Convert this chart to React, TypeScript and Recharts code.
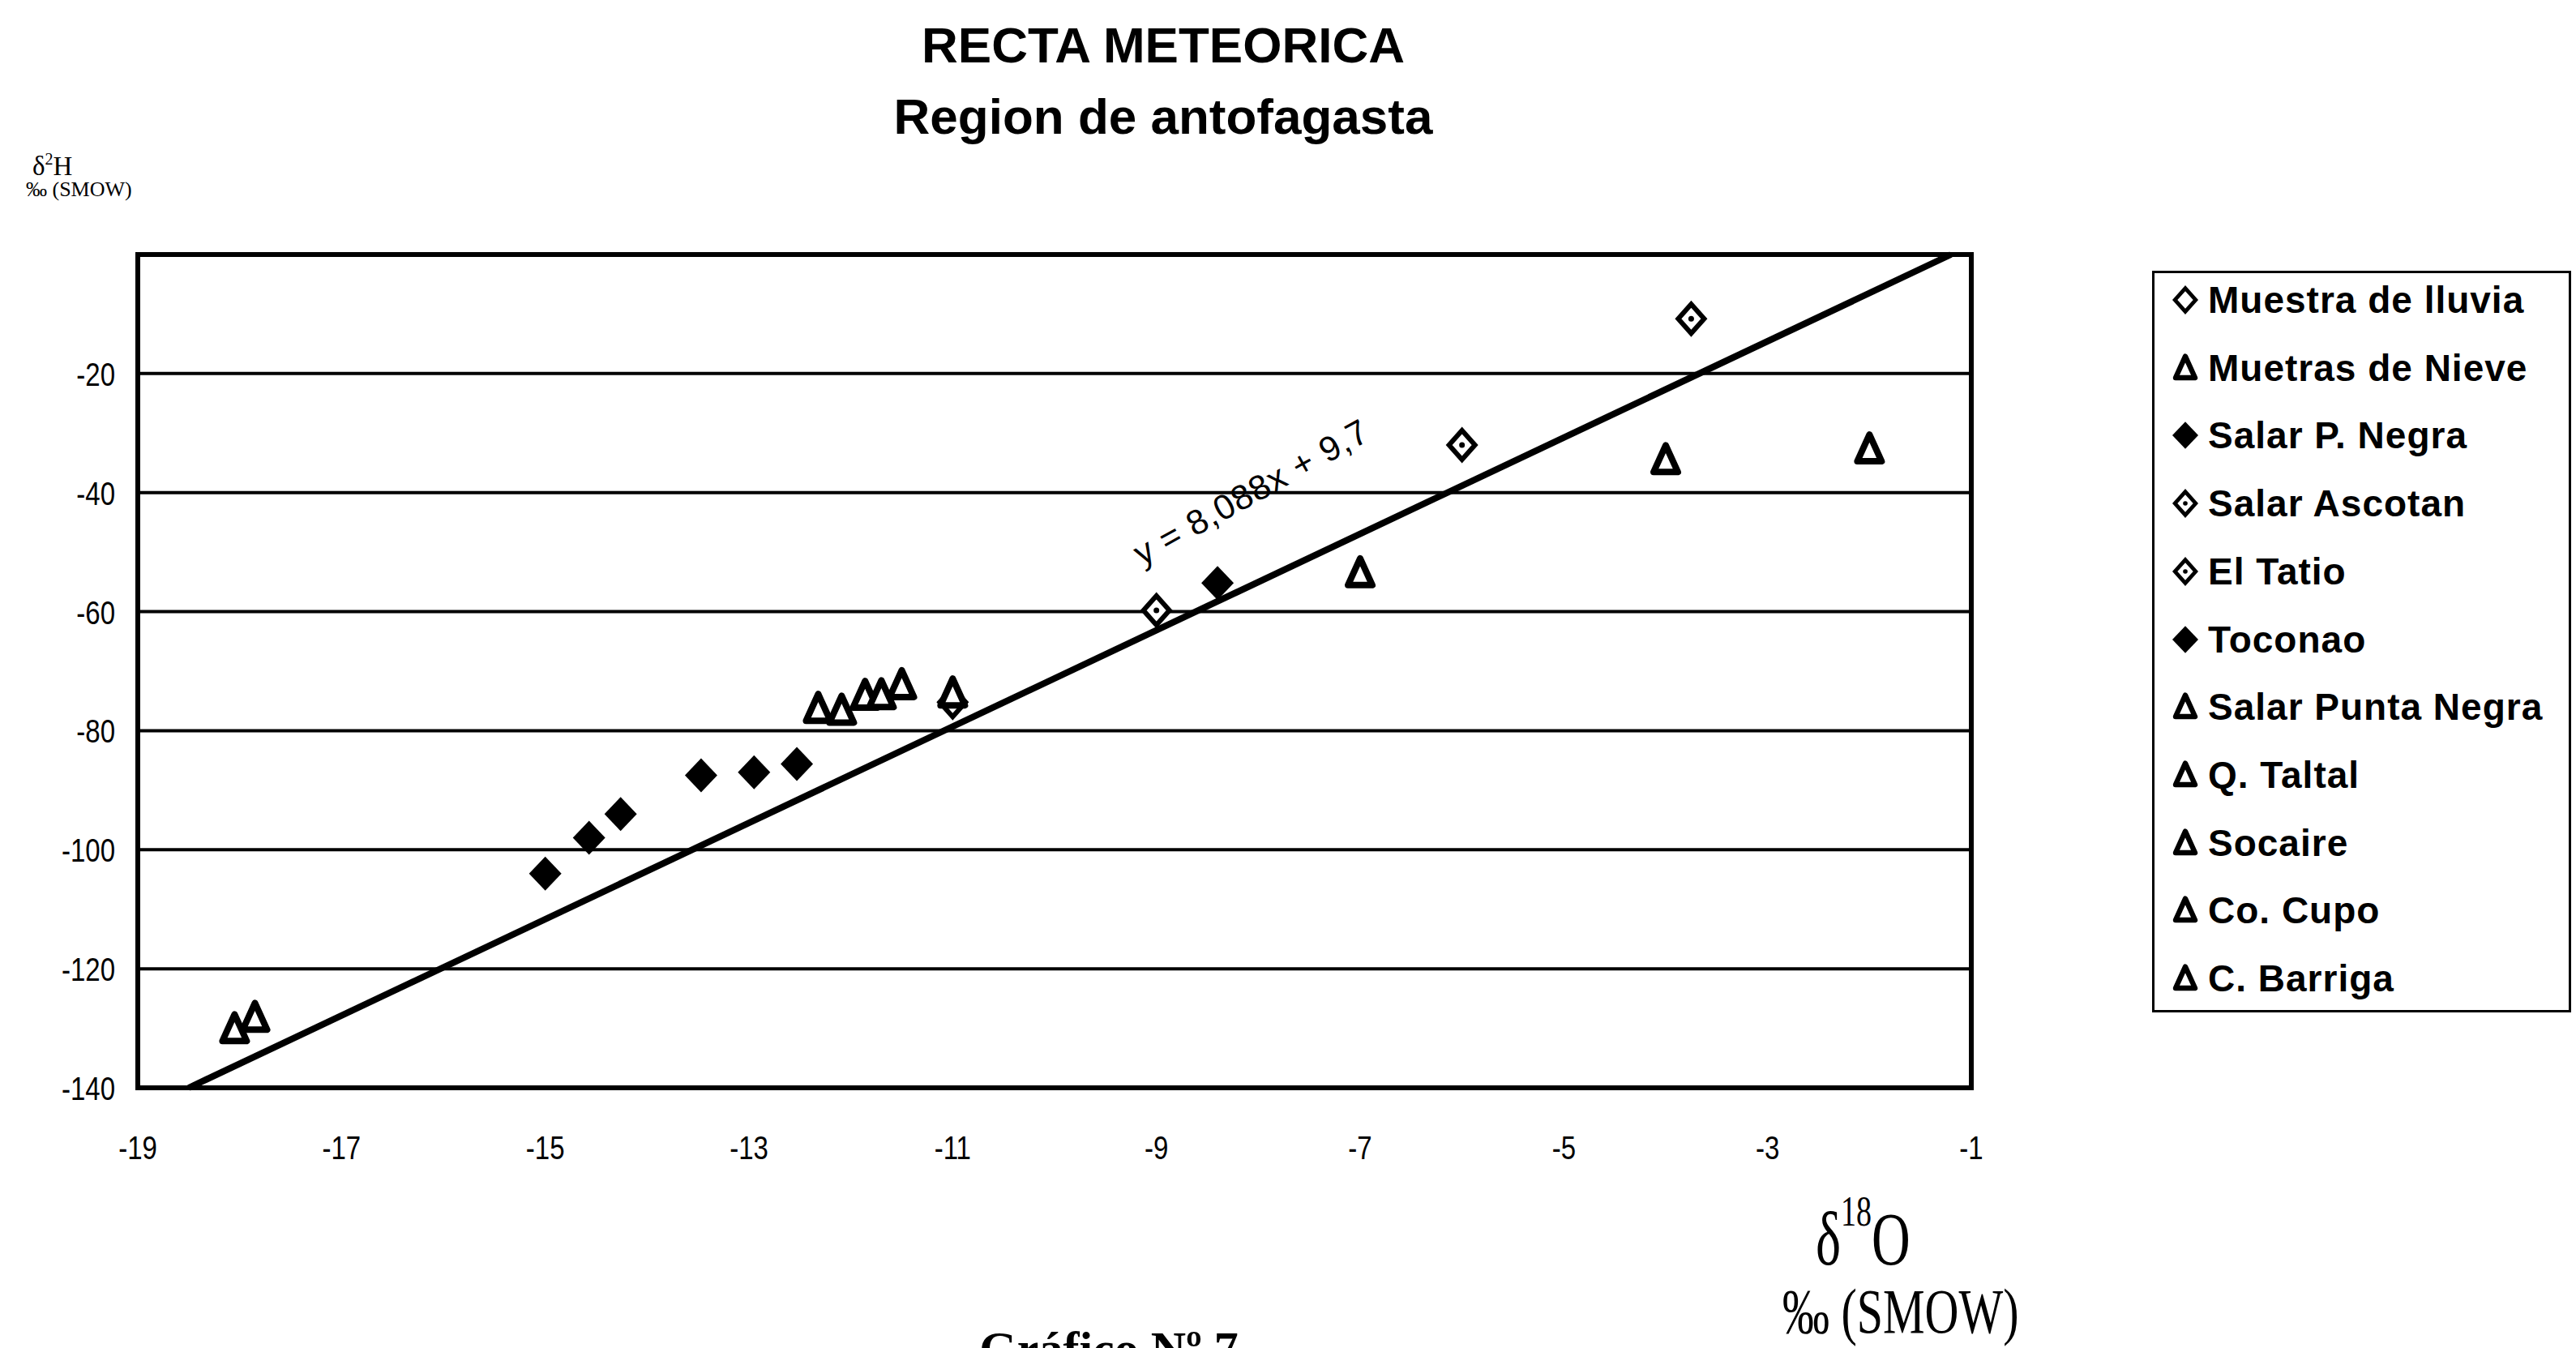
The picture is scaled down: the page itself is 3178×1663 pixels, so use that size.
import React from 'react';
import {
  ScatterChart,
  Scatter,
  XAxis,
  YAxis,
  CartesianGrid,
  ReferenceLine,
  ReferenceArea,
  Legend,
} from 'recharts';

// axis ticks
const xTicks = [-19, -17, -15, -13, -11, -9, -7, -5, -3, -1];
const yTicks = [-140, -120, -100, -80, -60, -40, -20];

// samples (δ18O, δ2H)
const muestraLluvia = [{ x: -11.0, y: -75.2 }];
const muestrasNieve = [
  { x: -18.05, y: -130.1 },
  { x: -17.85, y: -128.2 },
];
const salarPNegra = [{ x: -8.4, y: -55.2 }];
const salarAscotan = [
  { x: -6.0, y: -32.0 },
  { x: -3.75, y: -10.8 },
];
const elTatio = [{ x: -9.0, y: -59.8 }];
const toconao = [
  { x: -15.0, y: -104.0 },
  { x: -14.57, y: -98.0 },
  { x: -14.26, y: -94.0 },
  { x: -13.47, y: -87.5 },
  { x: -12.95, y: -87.0 },
  { x: -12.53, y: -85.6 },
];
const salarPuntaNegra = [{ x: -7.0, y: -53.5 }];
const qTaltal = [{ x: -4.0, y: -34.5 }];
const socaire = [
  { x: -12.32, y: -76.3 },
  { x: -12.09, y: -76.6 },
  { x: -11.86, y: -74.1 },
  { x: -11.7, y: -74.0 },
  { x: -11.5, y: -72.3 },
];
const coCupo = [{ x: -2.0, y: -32.7 }];
const cBarriga = [{ x: -11.0, y: -73.7 }];

// meteoric line y = 8,088x + 9,7 (ends where it meets the frame)
const trendLine = [
  { x: -18.5, y: -140 },
  { x: -1.2, y: 0 },
];

type Kind = 'hollow' | 'dotted' | 'filled' | 'triangle';

const SERIES: Array<{ name: string; data: Array<{ x: number; y: number }>; kind: Kind }> = [
  { name: 'Muestra de lluvia', data: muestraLluvia, kind: 'hollow' },
  { name: 'Muetras de Nieve', data: muestrasNieve, kind: 'triangle' },
  { name: 'Salar P. Negra', data: salarPNegra, kind: 'filled' },
  { name: 'Salar Ascotan', data: salarAscotan, kind: 'dotted' },
  { name: 'El Tatio', data: elTatio, kind: 'dotted' },
  { name: 'Toconao', data: toconao, kind: 'filled' },
  { name: 'Salar Punta Negra', data: salarPuntaNegra, kind: 'triangle' },
  { name: 'Q. Taltal', data: qTaltal, kind: 'triangle' },
  { name: 'Socaire', data: socaire, kind: 'triangle' },
  { name: 'Co. Cupo', data: coCupo, kind: 'triangle' },
  { name: 'C. Barriga', data: cBarriga, kind: 'triangle' },
];

function marker(kind: Kind, cx: number, cy: number, s = 1) {
  if (kind === 'filled') {
    const w = 20 * s;
    const h = 21 * s;
    return (
      <polygon
        points={`${cx},${cy - h} ${cx + w},${cy} ${cx},${cy + h} ${cx - w},${cy}`}
        fill="#000"
      />
    );
  }
  if (kind === 'triangle') {
    return (
      <polygon
        points={`${cx},${cy - 18 * s} ${cx + 15 * s},${cy + 15 * s} ${cx - 15 * s},${cy + 15 * s}`}
        fill="#fff"
        stroke="#000"
        strokeWidth={8 * s}
        strokeLinejoin="round"
      />
    );
  }
  const w = 16 * s;
  const h = 18 * s;
  return (
    <g>
      <polygon
        points={`${cx},${cy - h} ${cx + w},${cy} ${cx},${cy + h} ${cx - w},${cy}`}
        fill="#fff"
        stroke="#000"
        strokeWidth={6 * s}
      />
      {kind === 'dotted' && <circle cx={cx} cy={cy} r={3.5 * s} fill="#000" />}
    </g>
  );
}

const sans = '"Liberation Sans", Arial, sans-serif';
const serif = '"Liberation Serif", "Times New Roman", serif';

// tick text, a little taller than the font like the scanned original
function XTick(p: any) {
  const { x, y, payload } = p;
  return (
    <g transform={`translate(${x} ${y}) scale(1 1.25)`}>
      <text x={0} y={0} dy={24} textAnchor="middle" fontFamily={sans} fontSize={33} fill="#000">
        {payload.value}
      </text>
    </g>
  );
}

function YTick(p: any) {
  const { x, y, payload } = p;
  return (
    <g transform={`translate(${x} ${y}) scale(1 1.25)`}>
      <text x={0} y={0} dy={12} textAnchor="end" fontFamily={sans} fontSize={33} fill="#000">
        {payload.value}
      </text>
    </g>
  );
}

function LegendBox() {
  return (
    <div
      style={{
        position: 'relative',
        width: 517,
        height: 915,
        border: '3px solid #000',
        boxSizing: 'border-box',
        background: '#fff',
      }}
    >
      {SERIES.map((s, i) => (
        <div
          key={s.name}
          style={{
            position: 'absolute',
            left: 16,
            top: 8 + i * 83.7,
            height: 50,
            display: 'flex',
            alignItems: 'center',
            fontFamily: sans,
            fontWeight: 'bold',
            fontSize: 46,
            letterSpacing: 1,
            color: '#000',
            whiteSpace: 'nowrap',
          }}
        >
          <svg width={44} height={44} style={{ marginRight: 6 }}>
            {marker(s.kind, 22, 22, 0.8)}
          </svg>
          {s.name}
        </div>
      ))}
    </div>
  );
}

export default function App() {
  return (
    <div
      style={{
        position: 'relative',
        width: 3178,
        height: 1663,
        overflow: 'hidden',
        background: '#fff',
      }}
    >
      <style>{'body{margin:0;overflow:hidden;}'}</style>
      <ScatterChart
        width={3178}
        height={1663}
        margin={{ top: 314, right: 746, bottom: 221, left: 20 }}
      >
        <CartesianGrid horizontal vertical={false} stroke="#000" strokeWidth={4} />
        <XAxis
          type="number"
          dataKey="x"
          domain={[-19, -1]}
          ticks={xTicks}
          interval={0}
          height={100}
          axisLine={false}
          tickLine={false}
          tickSize={0}
          tickMargin={58}
          tick={<XTick />}
        />
        <YAxis
          type="number"
          dataKey="y"
          domain={[-140, 0]}
          ticks={yTicks}
          interval={0}
          width={150}
          axisLine={false}
          tickLine={false}
          tickSize={0}
          tickMargin={28}
          tick={<YTick />}
        />
        <ReferenceArea
          x1={-19}
          x2={-1}
          y1={-140}
          y2={0}
          fill="none"
          fillOpacity={0}
          stroke="#000"
          strokeWidth={6}
        />
        <ReferenceLine segment={trendLine} stroke="#000" strokeWidth={8} />
        {SERIES.map((s) => (
          <Scatter
            key={s.name}
            name={s.name}
            data={s.data}
            isAnimationActive={false}
            shape={(p: any) => marker(s.kind, p.cx, p.cy)}
          />
        ))}
        <Legend
          layout="vertical"
          align="center"
          verticalAlign="middle"
          content={() => <LegendBox />}
          wrapperStyle={{ left: 2655, top: 334, width: 517, height: 915, margin: 0 }}
        />
      </ScatterChart>

      <svg
        width={3178}
        height={1663}
        style={{ position: 'absolute', left: 0, top: 0, pointerEvents: 'none' }}
      >
        <text x={1435} y={77} textAnchor="middle" fontFamily={sans} fontWeight="bold" fontSize={62}>
          RECTA METEORICA
        </text>
        <text x={1435} y={165} textAnchor="middle" fontFamily={sans} fontWeight="bold" fontSize={62}>
          Region de antofagasta
        </text>

        <text x={40} y={216} fontFamily={serif} fontSize={33}>
          δ<tspan dy={-13} fontSize={20}>2</tspan>
          <tspan dy={13}>H</tspan>
        </text>
        <text x={32} y={242} fontFamily={serif} fontSize={26}>
          ‰ (SMOW)
        </text>

        <text
          x={1545}
          y={610}
          textAnchor="middle"
          dominantBaseline="middle"
          fontFamily={sans}
          fontSize={43}
          letterSpacing={1}
          transform="rotate(-29 1545 610)"
        >
          y = 8,088x + 9,7
        </text>

        <g transform="translate(0 1560) scale(1 1.4) translate(0 -1560)">
          <text x={2240} y={1560} fontFamily={serif} fontSize={66}>
            δ<tspan dy={-34} fontSize={38}>18</tspan>
            <tspan dy={34}>O</tspan>
          </text>
        </g>
        <g transform="translate(0 1644) scale(1 1.35) translate(0 -1644)">
          <text x={2199} y={1644} fontFamily={serif} fontSize={58}>
            ‰ (SMOW)
          </text>
        </g>

        <text x={1368} y={1684} textAnchor="middle" fontFamily={serif} fontWeight="bold" fontSize={60}>
          Gráfico Nº 7
        </text>
      </svg>
    </div>
  );
}
